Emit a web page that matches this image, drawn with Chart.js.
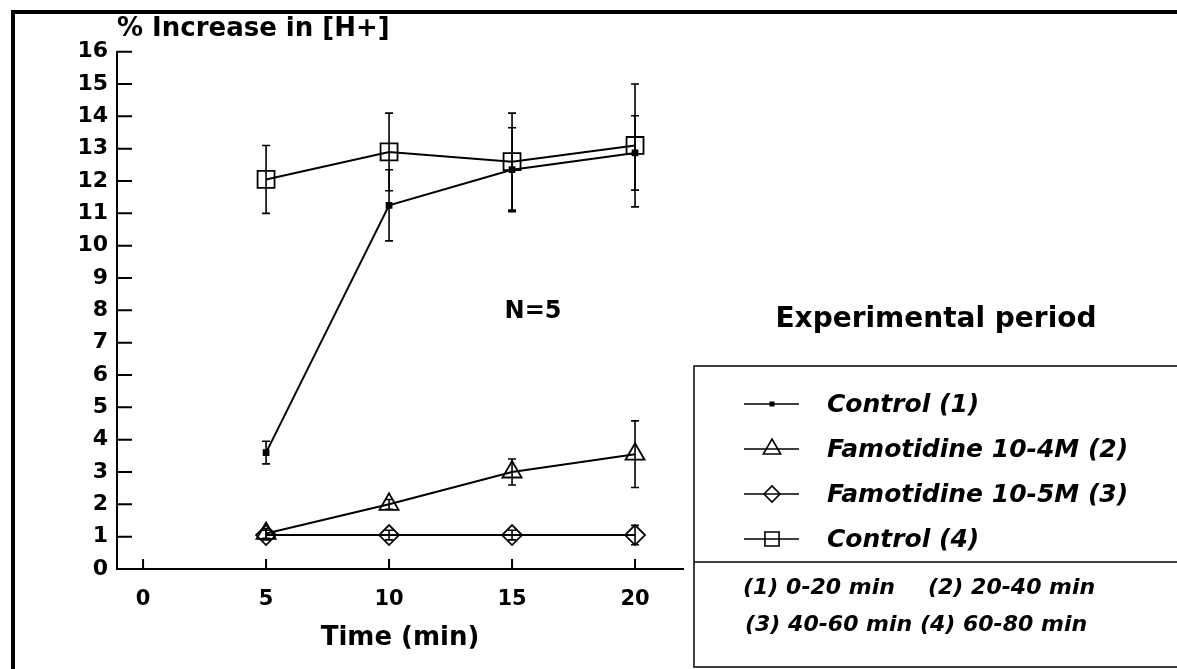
<!DOCTYPE html>
<html>
<head>
<meta charset="utf-8">
<title>% Increase in [H+]</title>
<script src="https://cdn.jsdelivr.net/npm/chart.js@4"></script>
<style>
  html, body { margin: 0; padding: 0; background: #fff; }
  #wrap { position: relative; width: 1177px; height: 669px; overflow: hidden; }
  #frame { position: absolute; left: 11px; top: 10px; right: -10px; bottom: -10px;
           border-top: 4px solid #000; border-left: 4px solid #000; }
  canvas { position: absolute; left: 0; top: 0; }
</style>
</head>
<body>
<div id="wrap">
  <div id="frame"></div>
  <canvas id="chart" width="1177" height="669"></canvas>
</div>
<script>
// time points (min)
const times = [5, 10, 15, 20];
const xTicks = [0, 5, 10, 15, 20];

// % increase in [H+], mean and error per experimental period
const control1 = [3.6, 11.25, 12.35, 12.87];
const control1Err = [0.35, 1.1, 1.3, 1.15];

const famo4 = [1.1, 2.0, 3.0, 3.55];
const famo4Err = [0.15, 0.15, 0.4, 1.03];

const famo5 = [1.05, 1.05, 1.05, 1.05];
const famo5Err = [0.15, 0.15, 0.15, 0.3];

const control4 = [12.05, 12.9, 12.6, 13.1];
const control4Err = [1.05, 1.2, 1.5, 1.9];

const labels = ['Control (1)', 'Famotidine 10-4M (2)', 'Famotidine 10-5M (3)', 'Control (4)'];
const periodNotes = [['(1) 0-20 min', '(2) 20-40 min'], ['(3) 40-60 min (4) 60-80 min']];

const seriesValues = [control1, famo4, famo5, control4];
const seriesErrors = [control1Err, famo4Err, famo5Err, control4Err];
const styles = [
  { pointStyle: 'rect', radius: 3.5, fill: '#000' },
  { pointStyle: 'triangle', radius: 11, fill: 'rgba(0,0,0,0)' },
  { pointStyle: 'rectRot', radius: 10, fill: 'rgba(0,0,0,0)' },
  { pointStyle: 'rect', radius: 12, fill: 'rgba(0,0,0,0)' }
];
const legendRadius = [2.5, 10, 8, 10];

Chart.defaults.font.family = "'DejaVu Sans', sans-serif";
Chart.defaults.font.weight = 'bold';
Chart.defaults.color = '#000';

// error bars with caps, through the scales
const errorBars = {
  id: 'errorBars',
  afterDatasetsDraw(chart) {
    const { ctx, scales: { x, y } } = chart;
    ctx.save();
    ctx.strokeStyle = '#000';
    ctx.lineWidth = 1.6;
    seriesErrors.forEach((errs, i) => {
      const vals = seriesValues[i];
      times.forEach((t, j) => {
        const px = x.getPixelForValue(t);
        const top = y.getPixelForValue(vals[j] + errs[j]);
        const bot = y.getPixelForValue(vals[j] - errs[j]);
        ctx.beginPath();
        ctx.moveTo(px, top); ctx.lineTo(px, bot);
        ctx.moveTo(px - 4, top); ctx.lineTo(px + 4, top);
        ctx.moveTo(px - 4, bot); ctx.lineTo(px + 4, bot);
        ctx.stroke();
      });
    });
    ctx.restore();
  }
};

// tick marks pointing into the plot
const innerTicks = {
  id: 'innerTicks',
  afterDraw(chart) {
    const { ctx, chartArea, scales: { x, y } } = chart;
    ctx.save();
    ctx.strokeStyle = '#000';
    ctx.lineWidth = 2;
    ctx.beginPath();
    y.ticks.forEach(tk => {
      const py = y.getPixelForValue(tk.value);
      ctx.moveTo(chartArea.left, py); ctx.lineTo(chartArea.left + 15, py);
    });
    x.ticks.forEach(tk => {
      const px = x.getPixelForValue(tk.value);
      ctx.moveTo(px, chartArea.bottom); ctx.lineTo(px, chartArea.bottom - 10);
    });
    ctx.stroke();
    ctx.restore();
  }
};

function marker(ctx, st, r, cx, cy) {
  ctx.fillStyle = st.fill;
  ctx.strokeStyle = '#000';
  ctx.lineWidth = 1.6;
  Chart.helpers.drawPoint(ctx, { pointStyle: st.pointStyle, radius: r, rotation: 0, borderWidth: 1.6 }, cx, cy);
}

// N=5 note and the legend box
const notes = {
  id: 'notes',
  afterDraw(chart) {
    const ctx = chart.ctx;
    ctx.save();
    ctx.fillStyle = '#000';
    ctx.textBaseline = 'middle';
    ctx.textAlign = 'center';
    ctx.font = "bold 24px 'DejaVu Sans'";
    ctx.fillText('N=5', 533, 312);
    ctx.font = "bold 28px 'DejaVu Sans'";
    ctx.fillText('Experimental period', 936, 320);

    ctx.strokeStyle = '#000';
    ctx.lineWidth = 1.5;
    ctx.strokeRect(694, 366, 600, 301);
    ctx.beginPath();
    ctx.moveTo(694, 562); ctx.lineTo(1177, 562);
    ctx.stroke();

    ctx.textAlign = 'left';
    ctx.font = "italic bold 25px 'DejaVu Sans'";
    labels.forEach((lab, i) => {
      const ry = 404 + i * 45;
      ctx.strokeStyle = '#000';
      ctx.lineWidth = 1.5;
      ctx.beginPath();
      ctx.moveTo(744, ry); ctx.lineTo(799, ry);
      ctx.stroke();
      marker(ctx, styles[i], legendRadius[i], 772, ry);
      ctx.fillStyle = '#000';
      ctx.fillText(lab, 827, ry + 1);
    });

    ctx.font = "italic bold 22px 'DejaVu Sans'";
    ctx.fillText(periodNotes[0][0], 743, 588);
    ctx.fillText(periodNotes[0][1], 928, 588);
    ctx.fillText(periodNotes[1][0], 745, 625);
    ctx.restore();
  }
};

const datasets = seriesValues.map((vals, i) => ({
  label: labels[i],
  data: times.map((t, j) => ({ x: t, y: vals[j] })),
  borderColor: '#000',
  borderWidth: 2,
  tension: 0,
  fill: false,
  pointStyle: styles[i].pointStyle,
  pointRadius: styles[i].radius,
  pointBackgroundColor: styles[i].fill,
  pointBorderColor: '#000',
  pointBorderWidth: 1.8,
  pointHoverRadius: styles[i].radius
}));

new Chart(document.getElementById('chart').getContext('2d'), {
  type: 'line',
  data: { datasets: datasets },
  options: {
    responsive: false,
    animation: false,
    events: [],
    layout: { padding: { top: 12, left: 0, right: 494, bottom: 0 } },
    plugins: {
      legend: { display: false },
      tooltip: { enabled: false },
      title: {
        display: true,
        text: '% Increase in [H+]',
        align: 'start',
        fullSize: false,
        font: { size: 26, weight: 'bold' },
        padding: { top: 2, bottom: 6.5 }
      }
    },
    scales: {
      x: {
        type: 'linear',
        min: -1.06,
        max: 21.95,
        afterBuildTicks: s => { s.ticks = xTicks.map(v => ({ value: v })); },
        afterFit: s => { s.height = 100; },
        grid: { display: false, drawTicks: false },
        border: { display: true, color: '#000', width: 2 },
        ticks: { font: { size: 21, weight: 'bold' }, padding: 18, maxRotation: 0 },
        title: {
          display: true,
          text: 'Time (min)',
          font: { size: 26, weight: 'bold' },
          padding: { top: 0, bottom: 15 }
        }
      },
      y: {
        min: 0,
        max: 16,
        afterFit: s => { s.width = 117; },
        grid: { display: false, drawTicks: false },
        border: { display: true, color: '#000', width: 2 },
        ticks: { stepSize: 1, font: { size: 22, weight: 'bold' }, padding: 9 }
      }
    }
  },
  plugins: [errorBars, innerTicks, notes]
});
</script>
</body>
</html>
